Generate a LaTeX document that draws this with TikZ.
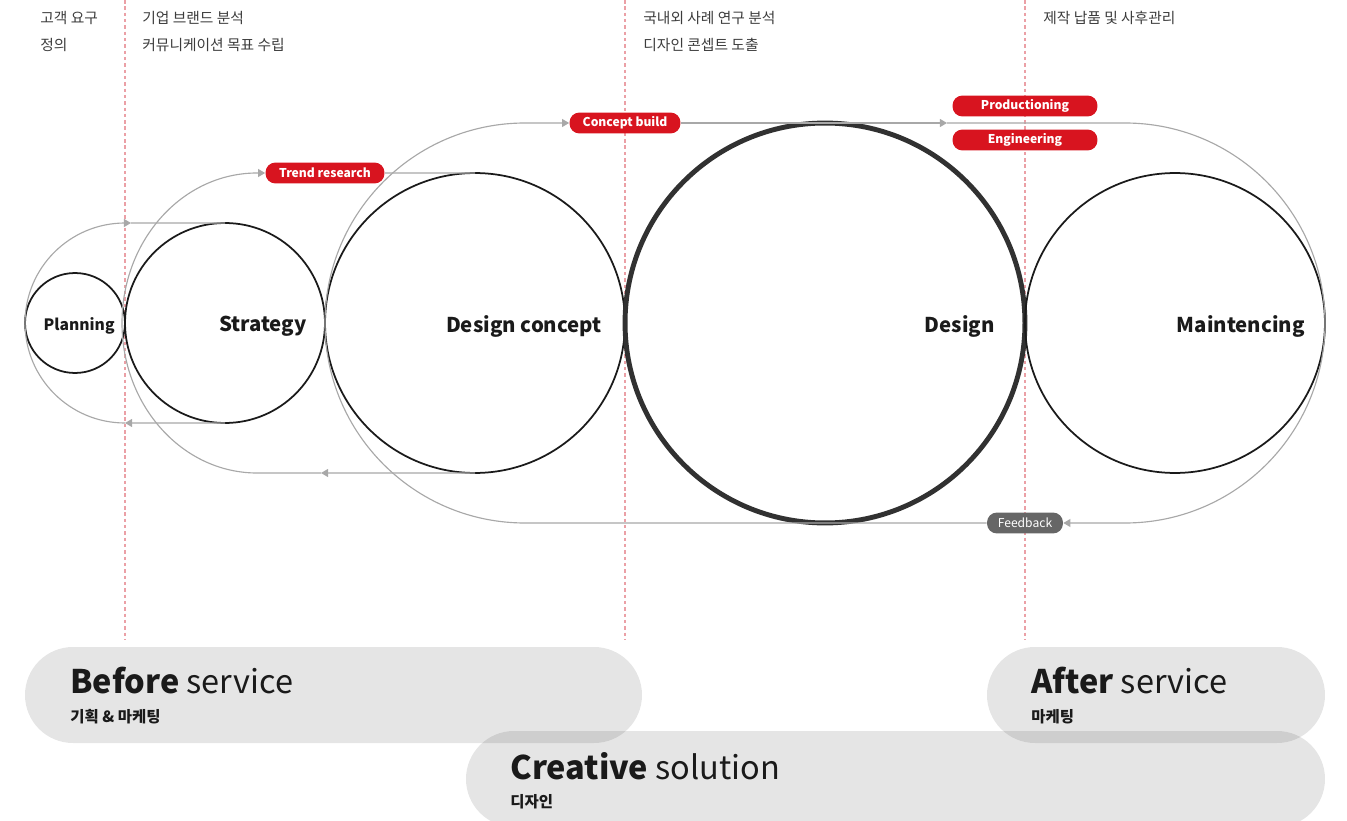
\documentclass[tikz,border=0pt]{standalone}
\usepackage{fontspec}
\setmainfont{Noto Sans CJK KR}
\newfontfamily\kr{Noto Sans CJK KR}
\usetikzlibrary{arrows.meta,positioning}
\definecolor{ink}{HTML}{1A1A1A}
\definecolor{flowgray}{HTML}{A8A8A8}
\definecolor{pillred}{HTML}{D8141F}
\definecolor{fbgray}{HTML}{666666}
\definecolor{guidered}{HTML}{EBA0A6}
\begin{document}
\begin{tikzpicture}[x=0.02cm,y=-0.02cm,>={Triangle[length=4pt,width=4.5pt]},
 ring/.style={circle,draw=ink,line width=1pt,inner sep=0pt,outer sep=0pt},
 cname/.style={text=ink,inner sep=0pt,yshift=-1.8pt,font=\bfseries\fontsize{11.6}{14}\selectfont},
 flow/.style={draw=flowgray,line width=0.65pt,color=flowgray},
 pill/.style={rectangle,rounded corners=0.2cm,fill=pillred,text=white,minimum height=0.42cm,inner sep=0pt,font=\bfseries\fontsize{6.9}{8}\selectfont},
 guide/.style={draw=guidered,line width=0.6pt,dash pattern=on 2pt off 1.6pt},
 panel/.style={fill=black,fill opacity=0.1,rounded corners=0.96cm},
 note/.style={anchor=west,inner sep=0pt,text=ink!85,font=\kr\fontsize{8.4}{9}\selectfont},
 ptitle/.style={anchor=base west,inner sep=0pt,text=ink,font=\fontsize{18.5}{20}\selectfont},
 psub/.style={anchor=west,inner sep=0pt,text=ink,font=\kr\bfseries\fontsize{8.8}{10}\selectfont}]
 \useasboundingbox (0,0) rectangle (1347,821);
 \clip (0,0) rectangle (1347,821);
 % stage guides
 \draw[guide] (125,0) -- (125,640);
 \draw[guide] (625,0) -- (625,640);
 \draw[guide] (1025,0) -- (1025,640);
 \node[note] (n1) at (40,18) {고객 요구};
 \node[note] (n2) at (40,45) {정의};
 \node[note] (n3) at (142,18) {기업 브랜드 분석};
 \node[note] (n4) at (142,45) {커뮤니케이션 목표 수립};
 \node[note] (n5) at (643,18) {국내외 사례 연구 분석};
 \node[note] (n6) at (643,45) {디자인 콘셉트 도출};
 \node[note] (n7) at (1043,18) {제작 납품 및 사후관리};
 % circles
 \node[ring,minimum size=2cm] (plan) at (75,323) {};
 \node[ring,minimum size=4cm] (strat) at (225,323) {};
 \node[ring,minimum size=6cm] (dcon) at (475,323) {};
 \node[ring,minimum size=8cm,line width=2.8pt,draw=ink!90] (des) at (825,323) {};
 \node[ring,minimum size=6cm] (maint) at (1175,323) {};
 \node[cname,font=\bfseries\fontsize{8.9}{11}\selectfont,left=0.2cm of plan.east] (planlbl) {Planning};
 \node[cname,left=0.36cm of strat.east] (stratlbl) {Strategy};
 \node[cname,left=0.46cm of dcon.east] (dconlbl) {Design concept};
 \node[cname,left=0.6cm of des.east] (deslbl) {Design};
 \node[cname,left=0.4cm of maint.east] (maintlbl) {Maintencing};
 % tags
 \node[pill,minimum width=2.38cm] (trend) at (325,173) {Trend research};
 \node[pill,minimum width=2.22cm] (cb) at (625,123) {Concept build};
 \node[pill,minimum width=2.9cm] (prod) at (1025,106) {Productioning};
 \node[pill,minimum width=2.9cm] (eng) at (1025,140) {Engineering};
 \node[pill,minimum width=1.52cm,fill=fbgray,font=\fontsize{6.9}{8}\selectfont] (fb) at (1025,523) {Feedback};
 % loops
 \coordinate (l1t) at (125,223);
 \coordinate (l1b) at (125,423);
 \coordinate (a2) at (321,473);
 \coordinate (l2b) at (257,473);
 \coordinate (l3bl) at (525,523);
 \coordinate (l3tr) at (1125,123);
 \coordinate (a3) at (947,123);
 \draw[flow,->] (strat.south) -- (l1b);
 \draw[flow,->] (l1b) arc[start angle=90,end angle=270,radius=100] -- ([xshift=0.12cm]l1t);
 \draw[flow] ([xshift=0.12cm]l1t) -- (strat.north);
 \draw[flow,->] (dcon.south) -- (a2);
 \draw[flow,->] (a2) -- (l2b) arc[start angle=90,end angle=270,x radius=135,y radius=150] -- (trend.west);
 \draw[flow] (trend.east) -- (dcon.north);
 \draw[flow,->] (fb.west) -- (l3bl) arc[start angle=90,end angle=270,radius=200] -- (cb.west);
 \draw[flow,->] (cb.east) -- (a3);
 \draw[flow,->] (a3) -- (l3tr) arc[start angle=270,end angle=450,radius=200] -- (fb.east);
 % service bands
 \fill[panel] (25,647) rectangle (642,743);
 \fill[panel] (987,647) rectangle (1325,743);
 \fill[panel] (466,731) rectangle (1325,827);
 \node[ptitle] (before) at (70,693) {\textbf{Before} service};
 \node[psub] (beforesub) at (70,717) {기획 \& 마케팅};
 \node[ptitle] (after) at (1031,693) {\textbf{After} service};
 \node[psub] (aftersub) at (1031,717) {마케팅};
 \node[ptitle] (creative) at (510,779) {\textbf{Creative} solution};
 \node[psub] (creativesub) at (510,802) {디자인};
\end{tikzpicture}
\end{document}
